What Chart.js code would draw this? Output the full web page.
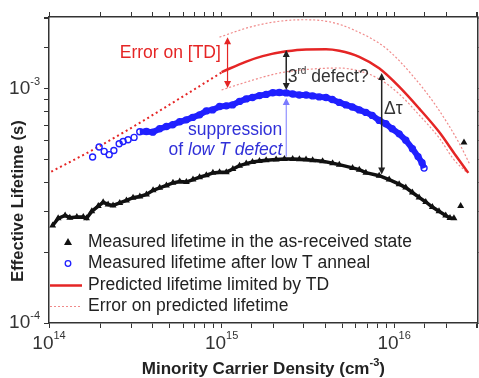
<!DOCTYPE html>
<html>
<head>
<meta charset="utf-8">
<script src="https://cdn.jsdelivr.net/npm/chart.js@4.4.0/dist/chart.umd.min.js"></script>
<style>body{margin:0;background:#fff}</style>
</head>
<body>
<canvas id="chart-area" width="479" height="378"></canvas>
<script>
// measured lifetime, as-received state
var asReceivedDensity = [1.05e14,1.13e14,1.24e14,1.32e14,1.45e14,1.58e14,1.65e14,1.77e14,1.93e14,2.06e14,2.20e14,2.35e14,2.57e14,2.81e14,3.07e14,3.36e14,3.67e14,4.01e14,4.38e14,4.79e14,5.23e14,5.72e14,6.25e14,6.83e14,7.46e14,8.16e14,8.91e14,9.74e14,1.065e15,1.163e15,1.271e15,1.39e15,1.511e15,1.658e15,1.813e15,2.071e15,2.313e15,2.583e15,2.824e15,3.087e15,3.371e15,3.85e15,4.40e15,4.81e15,5.74e15,6.28e15,6.86e15,8.19e15,9.36e15,1.069e16,1.168e16,1.276e16,1.395e16,1.525e16,1.665e16,1.82e16,1.99e16,2.107e16,2.222e16];
var asReceivedLifetime = [2.61e-4,2.80e-4,2.88e-4,2.82e-4,2.84e-4,2.84e-4,2.80e-4,3.00e-4,3.16e-4,3.28e-4,3.21e-4,3.18e-4,3.26e-4,3.34e-4,3.43e-4,3.47e-4,3.54e-4,3.69e-4,3.78e-4,3.87e-4,3.97e-4,4.02e-4,4.00e-4,4.10e-4,4.20e-4,4.28e-4,4.38e-4,4.41e-4,4.41e-4,4.55e-4,4.70e-4,4.80e-4,4.87e-4,4.92e-4,4.96e-4,5.00e-4,5.02e-4,5.02e-4,5.01e-4,4.99e-4,4.96e-4,4.91e-4,4.82e-4,4.75e-4,4.60e-4,4.52e-4,4.39e-4,4.26e-4,4.10e-4,3.92e-4,3.79e-4,3.61e-4,3.44e-4,3.29e-4,3.13e-4,3.00e-4,2.88e-4,2.81e-4,2.80e-4];
var asReceivedExtraDensity = [2.43e16, 2.54e16];
var asReceivedExtraLifetime = [3.16e-4, 5.91e-4];

// measured lifetime after low T anneal
var annealDensity = [1.789e14,1.953e14,2.088e14,2.232e14,2.376e14,2.55e14,2.689e14,2.873e14,3.112e14,3.357e14,3.67e14,3.993e14,4.38e14,4.79e14,5.21e14,5.72e14,6.25e14,6.80e14,7.46e14,8.16e14,8.87e14,9.74e14,1.065e15,1.158e15,1.271e15,1.39e15,1.511e15,1.658e15,1.813e15,1.98e15,2.164e15,2.37e15,2.583e15,2.824e15,3.087e15,3.371e15,3.686e15,4.03e15,4.38e15,4.81e15,5.26e15,5.72e15,6.28e15,6.86e15,7.46e15,8.19e15,8.95e15,9.74e15,1.069e16,1.168e16,1.276e16,1.376e16,1.451e16,1.491e16];
var annealLifetime = [5.12e-4,5.65e-4,5.41e-4,5.24e-4,5.46e-4,5.83e-4,5.96e-4,6.07e-4,6.21e-4,6.56e-4,6.58e-4,6.54e-4,6.76e-4,6.91e-4,7.03e-4,7.24e-4,7.38e-4,7.56e-4,7.75e-4,8.06e-4,8.14e-4,8.41e-4,8.47e-4,8.55e-4,8.85e-4,9.07e-4,9.20e-4,9.37e-4,9.48e-4,9.64e-4,9.66e-4,9.62e-4,9.52e-4,9.43e-4,9.43e-4,9.34e-4,9.25e-4,9.20e-4,9.02e-4,8.76e-4,8.55e-4,8.38e-4,8.14e-4,7.94e-4,7.71e-4,7.34e-4,7.10e-4,6.76e-4,6.43e-4,6.04e-4,5.56e-4,5.14e-4,4.84e-4,4.59e-4];

// predicted lifetime limited by TD
var predDensity = [1.0e15,1.39e15,1.73e15,2.37e15,3.09e15,4.03e15,4.81e15,6.28e15,8.19e15,1.069e16,1.395e16,1.82e16,2.27e16,2.69e16];
var predLifetime = [1.181e-3,1.309e-3,1.381e-3,1.448e-3,1.476e-3,1.478e-3,1.456e-3,1.372e-3,1.225e-3,1.023e-3,8.26e-4,6.56e-4,5.21e-4,4.38e-4];
var extrapDensity = [1.03e14,1.89e14,3.36e14,5.72e14,1.0e15];
var extrapLifetime = [4.43e-4,5.61e-4,7.17e-4,9.11e-4,1.176e-3];

// error on predicted lifetime
var errHighDensity = [9.73e14,1.452e15,2.164e15,3.02e15,4.21e15,5.72e15,8.95e15,1.271e16,1.749e16,2.375e16,2.75e16];
var errHighLifetime = [1.665e-3,1.836e-3,1.947e-3,1.976e-3,1.937e-3,1.800e-3,1.494e-3,1.147e-3,8.47e-4,5.89e-4,4.75e-4];
var errLowDensity = [1.0e15,1.395e15,2.164e15,3.36e15,4.81e15,6.28e15,8.19e15,1.069e16,1.395e16,1.82e16,2.22e16,2.61e16];
var errLowLifetime = [9.90e-4,1.071e-3,1.170e-3,1.217e-3,1.229e-3,1.193e-3,1.103e-3,9.52e-4,7.75e-4,6.19e-4,4.99e-4,4.43e-4];

// axes
var xMin = 1e14, xMax = 3.05e16;
var yMin = 1e-4, yMax = 2.03e-3;
var xTickValues = [1e14, 1e15, 1e16];
var xTickExp = ['14', '15', '16'];
var yTickValues = [1e-4, 1e-3];
var yTickExp = ['-4', '-3'];

var legendLabels = [
    "Measured lifetime in the as-received state",
    "Measured lifetime after low T anneal",
    "Predicted lifetime limited by TD",
    "Error on predicted lifetime"
];

var FONT = '"Liberation Sans", Arial, sans-serif';
var RED = '#e52525';
var PINK = '#f08a8a';
var BLUE = '#2020ff';
var BLACK = '#111';

function pts(xs, ys) {
    return xs.map(function (x, i) { return {x: x, y: ys[i]}; });
}

function logAxis(pos, min, max, size) {
    var horiz = (pos == 'top' || pos == 'bottom');
    return {
        type: 'logarithmic',
        position: pos,
        axis: horiz ? 'x' : 'y',
        min: min,
        max: max,
        ticks: {autoSkip: false, maxRotation: 0, padding: 0, font: {size: 1}, callback: function () { return ''; }},
        grid: {drawOnChartArea: false, drawTicks: true, tickLength: 5, tickColor: '#333', tickWidth: 1},
        border: {display: true, color: '#333', width: 1.5},
        afterFit: function (scale) {
            if (horiz) scale.height = size; else scale.width = size;
        }
    };
}

// draws pieces of text side by side (for superscripts)
function drawRich(ctx, parts, x, y, align) {
    var total = 0;
    parts.forEach(function (p) { ctx.font = p.font; p.w = ctx.measureText(p.text).width; total += p.w; });
    var cx = x;
    if (align == 'center') cx = x - total / 2;
    if (align == 'right') cx = x - total;
    ctx.textAlign = 'left';
    ctx.textBaseline = 'middle';
    parts.forEach(function (p) {
        ctx.font = p.font;
        ctx.fillText(p.text, cx, y + (p.dy || 0));
        cx += p.w;
    });
}

function vArrow(ctx, x, yTop, yBot, color, lw, headTop, headBot) {
    var hw = 3.5, hl = 7;
    ctx.strokeStyle = color;
    ctx.fillStyle = color;
    ctx.lineWidth = lw;
    ctx.beginPath();
    ctx.moveTo(x, yTop + (headTop ? hl - 1 : 0));
    ctx.lineTo(x, yBot - (headBot ? hl - 1 : 0));
    ctx.stroke();
    if (headTop) {
        ctx.beginPath(); ctx.moveTo(x, yTop); ctx.lineTo(x - hw, yTop + hl); ctx.lineTo(x + hw, yTop + hl); ctx.closePath(); ctx.fill();
    }
    if (headBot) {
        ctx.beginPath(); ctx.moveTo(x, yBot); ctx.lineTo(x - hw, yBot - hl); ctx.lineTo(x + hw, yBot - hl); ctx.closePath(); ctx.fill();
    }
}

var annotate = {
    id: 'annotate',
    beforeDraw: function (chart) {
        var ctx = chart.ctx;
        ctx.save();
        ctx.fillStyle = '#fff';
        ctx.fillRect(0, 0, chart.width, chart.height);
        ctx.restore();
    },
    afterDraw: function (chart) {
        var ctx = chart.ctx, area = chart.chartArea;
        var xs = chart.scales.x, ys = chart.scales.y;
        ctx.save();

        // tick labels
        ctx.fillStyle = '#333';
        xTickValues.forEach(function (v, i) {
            drawRich(ctx, [{text: '10', font: '19px ' + FONT}, {text: xTickExp[i], font: '11px ' + FONT, dy: -8}],
                xs.getPixelForValue(v), area.bottom + 21, 'center');
        });
        yTickValues.forEach(function (v, i) {
            drawRich(ctx, [{text: '10', font: '19px ' + FONT}, {text: yTickExp[i], font: '11px ' + FONT, dy: -7}],
                area.left - 9, ys.getPixelForValue(v), 'right');
        });

        // axis titles
        ctx.fillStyle = '#222';
        drawRich(ctx, [{text: 'Minority Carrier Density (cm', font: 'bold 17px ' + FONT},
            {text: '-3', font: 'bold 11px ' + FONT, dy: -6},
            {text: ')', font: 'bold 17px ' + FONT}], (area.left + area.right) / 2, 369, 'center');
        ctx.save();
        ctx.translate(18, 201);
        ctx.rotate(-Math.PI / 2);
        drawRich(ctx, [{text: 'Effective Lifetime (s)', font: 'bold 16.5px ' + FONT}], 0, 0, 'center');
        ctx.restore();

        // arrows (data coordinates)
        function X(v) { return xs.getPixelForValue(v); }
        function Y(v) { return ys.getPixelForValue(v); }
        vArrow(ctx, X(1.083e15), Y(1.665e-3), Y(1.01e-3), RED, 1.2, true, true);
        vArrow(ctx, X(2.37e15), Y(1.466e-3), Y(9.9e-4), '#222', 1.5, true, true);
        vArrow(ctx, X(2.37e15), Y(9.16e-4), Y(5.14e-4), '#7a7aff', 1, true, false);
        vArrow(ctx, X(8.47e15), Y(1.17e-3), Y(4.31e-4), '#222', 1.5, true, true);

        // annotation texts
        var AF = '17.5px ' + FONT;
        ctx.fillStyle = RED;
        drawRich(ctx, [{text: 'Error on [TD]', font: AF}], X(2.57e14), Y(1.422e-3), 'left');
        ctx.fillStyle = '#333';
        drawRich(ctx, [{text: '3', font: AF}, {text: 'rd', font: '10px ' + FONT, dy: -6},
            {text: ' defect?', font: AF}], X(2.42e15), Y(1.125e-3), 'left');
        drawRich(ctx, [{text: '\u0394\u03c4', font: AF}], X(8.75e15), Y(8.22e-4), 'left');
        ctx.fillStyle = '#3030d8';
        drawRich(ctx, [{text: 'suppression', font: AF}], X(2.25e15), Y(6.69e-4), 'right');
        drawRich(ctx, [{text: 'of ', font: AF}, {text: 'low T defect', font: 'italic ' + AF}],
            X(2.25e15), Y(5.5e-4), 'right');

        // legend
        var lx = area.left, rowY = [242, 263.5, 285.5, 306.5];
        ctx.fillStyle = BLACK;
        ctx.beginPath();
        ctx.moveTo(lx + 19, rowY[0] - 4); ctx.lineTo(lx + 23, rowY[0] + 3); ctx.lineTo(lx + 15, rowY[0] + 3);
        ctx.closePath(); ctx.fill();
        ctx.strokeStyle = BLUE; ctx.lineWidth = 1.3;
        ctx.beginPath(); ctx.arc(lx + 19, rowY[1], 2.8, 0, Math.PI * 2); ctx.stroke();
        ctx.strokeStyle = RED; ctx.lineWidth = 2.5;
        ctx.beginPath(); ctx.moveTo(lx + 1, rowY[2]); ctx.lineTo(lx + 33, rowY[2]); ctx.stroke();
        ctx.strokeStyle = PINK; ctx.lineWidth = 1.2; ctx.setLineDash([2, 2]);
        ctx.beginPath(); ctx.moveTo(lx + 1, rowY[3]); ctx.lineTo(lx + 33, rowY[3]); ctx.stroke();
        ctx.setLineDash([]);
        ctx.fillStyle = '#222';
        legendLabels.forEach(function (t, i) {
            drawRich(ctx, [{text: t, font: '17.5px ' + FONT}], lx + 39, rowY[i], 'left');
        });

        ctx.restore();
    }
};

var config = {
    type: 'scatter',
    data: {
        datasets: [{
            label: legendLabels[0],
            data: pts(asReceivedDensity, asReceivedLifetime),
            showLine: true,
            borderColor: BLACK,
            borderWidth: 3.5,
            pointStyle: 'triangle',
            pointRadius: 4,
            pointBackgroundColor: BLACK,
            pointBorderColor: BLACK,
            pointBorderWidth: 0
        }, {
            label: 'as-received extra',
            data: pts(asReceivedExtraDensity, asReceivedExtraLifetime),
            showLine: false,
            pointStyle: 'triangle',
            pointRadius: 4,
            pointBackgroundColor: BLACK,
            pointBorderColor: BLACK,
            pointBorderWidth: 0
        }, {
            label: legendLabels[1],
            data: pts(annealDensity, annealLifetime),
            showLine: true,
            borderColor: BLUE,
            borderWidth: 6,
            pointRadius: 3,
            pointBorderWidth: 1.4,
            pointBorderColor: BLUE,
            pointBackgroundColor: 'rgba(0,0,0,0)',
            segment: {
                borderColor: function (c) { return c.p0DataIndex < 9 ? 'rgba(0,0,0,0)' : BLUE; }
            }
        }, {
            label: legendLabels[2],
            data: pts(predDensity, predLifetime),
            showLine: true,
            borderColor: RED,
            borderWidth: 2.5,
            pointRadius: 0,
            cubicInterpolationMode: 'monotone'
        }, {
            label: 'extrapolation',
            data: pts(extrapDensity, extrapLifetime),
            showLine: true,
            borderColor: RED,
            borderWidth: 2,
            borderDash: [2, 3],
            pointRadius: 0,
            cubicInterpolationMode: 'monotone'
        }, {
            label: legendLabels[3],
            data: pts(errHighDensity, errHighLifetime),
            showLine: true,
            borderColor: PINK,
            borderWidth: 1.2,
            borderDash: [2, 2],
            pointRadius: 0,
            cubicInterpolationMode: 'monotone'
        }, {
            label: 'error low',
            data: pts(errLowDensity, errLowLifetime),
            showLine: true,
            borderColor: PINK,
            borderWidth: 1.2,
            borderDash: [2, 2],
            pointRadius: 0,
            cubicInterpolationMode: 'monotone'
        }]
    },
    options: {
        responsive: false,
        animation: false,
        devicePixelRatio: 1,
        layout: {padding: 0, autoPadding: false},
        plugins: {legend: {display: false}, tooltip: {enabled: false}},
        scales: {
            x: logAxis('bottom', xMin, xMax, 55),
            x2: logAxis('top', xMin, xMax, 17),
            y: logAxis('left', yMin, yMax, 49),
            y2: logAxis('right', yMin, yMax, 1.3)
        }
    },
    plugins: [annotate]
};

function CreateGraph() {
    var ctx = document.getElementById("chart-area").getContext("2d");
    window.myChart = new Chart(ctx, config);
}

CreateGraph();
</script>
</body>
</html>
